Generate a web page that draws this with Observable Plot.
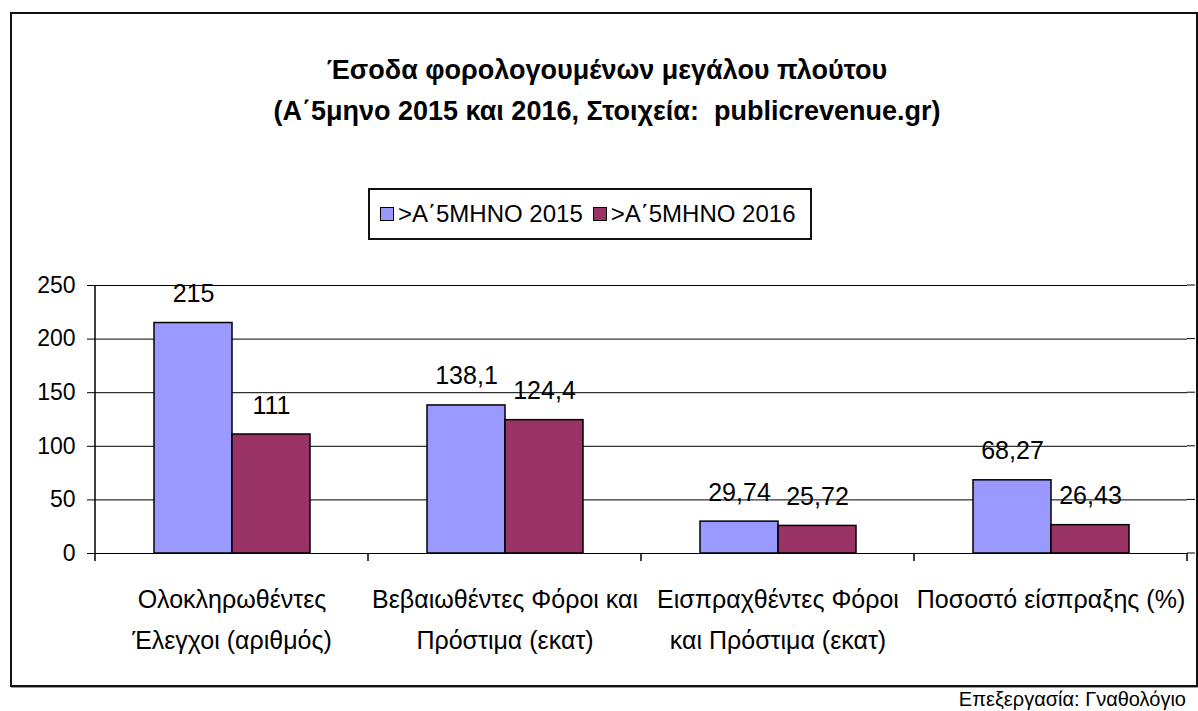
<!DOCTYPE html>
<html>
<head>
<meta charset="utf-8">
<script src="https://cdn.jsdelivr.net/npm/d3@7"></script>
<script src="https://cdn.jsdelivr.net/npm/@observablehq/plot@0.6"></script>
<style>
  html, body { margin: 0; padding: 0; background: #fff; }
  body { width: 1198px; height: 711px; position: relative; overflow: hidden; font-family: "Liberation Sans", Arial, sans-serif; color: #000; }
  #frame { position: absolute; left: 10px; top: 12px; width: 1184px; height: 671px; border: 2px solid #111; box-shadow: 1px 1px 0 #999; }
  .title { position: absolute; left: 0; width: 1214px; text-align: center; font-weight: bold; font-size: 27px; }
  #legend { position: absolute; left: 368px; top: 188px; width: 440px; height: 48px; border: 2px solid #111; box-sizing: content-box; display: flex; align-items: center; font-size: 24px; }
  .sw { display: inline-block; width: 12px; height: 12px; border: 1.5px solid #000; margin: 0 4px 0 10px; }
  #chart { position: absolute; left: 0; top: 260px; }
  #caption { position: absolute; right: 12px; top: 688px; font-size: 20px; line-height: 22px; }
</style>
</head>
<body>
<div id="frame"></div>
<div class="title" style="top:55px">Έσοδα φορολογουμένων μεγάλου πλούτου</div>
<div class="title" style="top:96px">(Α΄5μηνο 2015 και 2016, Στοιχεία:&nbsp; publicrevenue.gr)</div>
<div id="legend"></div>
<div id="chart"></div>
<div id="caption">Επεξεργασία: Γναθολόγιο</div>
<script>
const categories = [
  "Ολοκληρωθέντες\nΈλεγχοι (αριθμός)",
  "Βεβαιωθέντες Φόροι και\nΠρόστιμα (εκατ)",
  "Εισπραχθέντες Φόροι\nκαι Πρόστιμα (εκατ)",
  "Ποσοστό είσπραξης (%)"
];
const series = [">Α΄5ΜΗΝΟ 2015", ">Α΄5ΜΗΝΟ 2016"];
const colors = ["#9999FF", "#993366"];
const values2015 = [215, 138.1, 29.74, 68.27];
const values2016 = [111, 124.4, 25.72, 26.43];
const yTicks = [0, 50, 100, 150, 200, 250];

const data = [];
categories.forEach((c, i) => {
  data.push({cat: c, series: series[0], value: values2015[i]});
  data.push({cat: c, series: series[1], value: values2016[i]});
});
const fmt = v => String(v).replace(".", ",");

// legend
const legend = document.getElementById("legend");
series.forEach((s, i) => {
  const sw = document.createElement("span");
  sw.className = "sw"; sw.style.background = colors[i];
  legend.appendChild(sw);
  const t = document.createElement("span");
  t.textContent = s;
  legend.appendChild(t);
});

const chart = Plot.plot({
  width: 1198,
  height: 420,
  marginTop: 25,
  marginBottom: 127,
  marginLeft: 94,
  marginRight: 10,
  style: {fontFamily: "'Liberation Sans', Arial, sans-serif", fontSize: "23px", color: "#000", background: "transparent", overflow: "visible"},
  fx: {domain: categories, padding: 0, label: null, axis: null},
  x: {domain: series, paddingInner: 0, paddingOuter: 0.73, axis: null},
  y: {domain: [0, 250], ticks: yTicks, label: null, axis: null},
  color: {domain: series, range: colors},
  marks: [
    Plot.ruleY(yTicks, {stroke: "#000", strokeWidth: 1}),
    Plot.barY(data, {fx: "cat", x: "series", y: "value", fill: "series", stroke: "#000", strokeWidth: 1.5}),
    Plot.text(data, {fx: "cat", x: "series", y: "value", text: d => fmt(d.value), dy: -21, lineAnchor: "bottom", fontSize: 25, fill: "#000"}),
    Plot.axisY({ticks: yTicks, tickSize: 8, tickPadding: 12, fontSize: 23, label: null, stroke: "#000", strokeWidth: 1, strokeOpacity: 1}),
    Plot.axisFx({anchor: "bottom", tickSize: 0, tickPadding: 25, fontSize: 25, lineHeight: 1.65, label: null})
  ]
});
document.getElementById("chart").appendChild(chart);

// y axis line, grid extension and category boundary ticks, from the plot's own scales
const fxS = chart.scale("fx");
const yS = chart.scale("y");
const svg = d3.select(chart);
const g = svg.append("g").attr("stroke", "#000");
const lastEdge = fxS.apply(categories[categories.length - 1]) + fxS.bandwidth;
yTicks.forEach(t => {
  g.append("line").attr("stroke-width", 1)
    .attr("x1", lastEdge).attr("x2", lastEdge + 8)
    .attr("y1", yS.apply(t)).attr("y2", yS.apply(t));
});
g.append("line").attr("stroke-width", 1.5)
  .attr("x1", fxS.apply(categories[0])).attr("x2", fxS.apply(categories[0]))
  .attr("y1", yS.apply(250)).attr("y2", yS.apply(0) + 8);
categories.forEach(c => {
  const xv = fxS.apply(c) + fxS.bandwidth;
  g.append("line").attr("stroke-width", 1.5)
    .attr("x1", xv).attr("x2", xv).attr("y1", yS.apply(0)).attr("y2", yS.apply(0) + 8);
});
</script>
</body>
</html>
